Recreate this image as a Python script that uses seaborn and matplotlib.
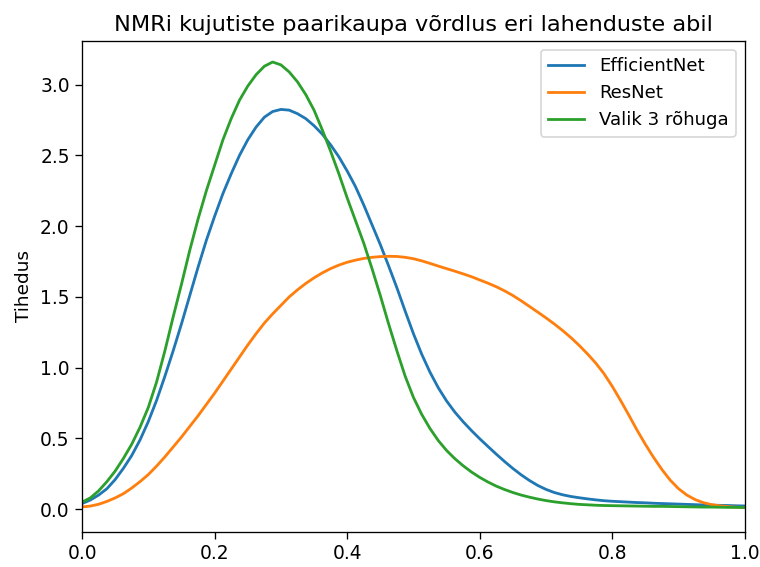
import matplotlib
matplotlib.use("Agg")
import matplotlib.pyplot as plt
import seaborn as sns
import pandas as pd

title = "NMRi kujutiste paarikaupa võrdlus eri lahenduste abil"
y_label = "Tihedus"
series_names = ["EfficientNet", "ResNet", "Valik 3 rõhuga"]
x_ticks = [0.0, 0.2, 0.4, 0.6, 0.8, 1.0]
y_ticks = [0.0, 0.5, 1.0, 1.5, 2.0, 2.5, 3.0]

x_grid = [0.0000, 0.0125, 0.0250, 0.0375, 0.0500, 0.0625, 0.0750, 0.0875, 0.1000, 0.1125,
          0.1250, 0.1375, 0.1500, 0.1625, 0.1750, 0.1875, 0.2000, 0.2125, 0.2250, 0.2375,
          0.2500, 0.2625, 0.2750, 0.2875, 0.3000, 0.3125, 0.3250, 0.3375, 0.3500, 0.3625,
          0.3750, 0.3875, 0.4000, 0.4125, 0.4250, 0.4375, 0.4500, 0.4625, 0.4750, 0.4875,
          0.5000, 0.5125, 0.5250, 0.5375, 0.5500, 0.5625, 0.5750, 0.5875, 0.6000, 0.6125,
          0.6250, 0.6375, 0.6500, 0.6625, 0.6750, 0.6875, 0.7000, 0.7125, 0.7250, 0.7375,
          0.7500, 0.7625, 0.7750, 0.7875, 0.8000, 0.8125, 0.8250, 0.8375, 0.8500, 0.8625,
          0.8750, 0.8875, 0.9000, 0.9125, 0.9250, 0.9375, 0.9500, 0.9625, 0.9750, 0.9875,
          1.0000]

efficientnet = [0.040, 0.065, 0.100, 0.145, 0.210, 0.290, 0.380, 0.490, 0.620, 0.770,
                0.940, 1.120, 1.310, 1.510, 1.710, 1.900, 2.070, 2.230, 2.370, 2.500,
                2.610, 2.700, 2.770, 2.810, 2.825, 2.820, 2.795, 2.760, 2.710, 2.650,
                2.575, 2.490, 2.390, 2.280, 2.150, 2.010, 1.870, 1.720, 1.565, 1.400,
                1.240, 1.095, 0.968, 0.858, 0.765, 0.686, 0.618, 0.556, 0.498, 0.443,
                0.389, 0.337, 0.288, 0.243, 0.203, 0.168, 0.140, 0.118, 0.102, 0.090,
                0.081, 0.073, 0.066, 0.060, 0.056, 0.053, 0.050, 0.047, 0.045, 0.042,
                0.040, 0.038, 0.036, 0.034, 0.032, 0.030, 0.029, 0.027, 0.026, 0.024,
                0.023]

resnet = [0.016, 0.022, 0.035, 0.055, 0.080, 0.110, 0.150, 0.195, 0.245, 0.305,
          0.370, 0.440, 0.510, 0.585, 0.660, 0.740, 0.820, 0.905, 0.990, 1.075,
          1.160, 1.240, 1.315, 1.380, 1.440, 1.500, 1.550, 1.595, 1.635, 1.670,
          1.700, 1.725, 1.745, 1.760, 1.772, 1.780, 1.785, 1.787, 1.786, 1.780,
          1.770, 1.755, 1.737, 1.718, 1.700, 1.682, 1.663, 1.643, 1.620, 1.597,
          1.572, 1.543, 1.510, 1.473, 1.433, 1.393, 1.352, 1.309, 1.263, 1.213,
          1.158, 1.098, 1.033, 0.958, 0.868, 0.769, 0.665, 0.558, 0.458, 0.365,
          0.280, 0.205, 0.145, 0.100, 0.068, 0.046, 0.032, 0.024, 0.018, 0.014,
          0.012]

valik3 = [0.050, 0.080, 0.130, 0.195, 0.270, 0.360, 0.460, 0.580, 0.720, 0.900,
          1.120, 1.360, 1.590, 1.830, 2.050, 2.250, 2.430, 2.610, 2.760, 2.890,
          2.990, 3.070, 3.130, 3.160, 3.140, 3.090, 3.020, 2.930, 2.820, 2.680,
          2.530, 2.370, 2.200, 2.040, 1.880, 1.700, 1.510, 1.310, 1.120, 0.940,
          0.790, 0.670, 0.570, 0.485, 0.415, 0.357, 0.307, 0.263, 0.225, 0.192,
          0.163, 0.139, 0.118, 0.100, 0.085, 0.072, 0.061, 0.052, 0.045, 0.039,
          0.034, 0.031, 0.028, 0.026, 0.025, 0.024, 0.023, 0.022, 0.021, 0.020,
          0.020, 0.019, 0.018, 0.017, 0.016, 0.015, 0.015, 0.014, 0.013, 0.013,
          0.012]

frames = []
for name, ys in zip(series_names, [efficientnet, resnet, valik3]):
    frames.append(pd.DataFrame({"x": x_grid, "y": ys, "model": name}))
df = pd.concat(frames, ignore_index=True)

fig, ax = plt.subplots(figsize=(6.4, 4.775), dpi=118.75)
sns.lineplot(data=df, x="x", y="y", hue="model", hue_order=series_names,
             palette=["#1f77b4", "#ff7f0e", "#2ca02c"], estimator=None,
             sort=True, linewidth=1.7, ax=ax)
ax.set_xlim(0, 1)
ax.set_ylim(-0.16, 3.31)
ax.set_xticks(x_ticks)
ax.set_yticks(y_ticks)
ax.tick_params(labelsize=11.3, length=4)
ax.set_title(title, fontsize=13.6)
ax.set_xlabel("")
ax.set_ylabel(y_label, fontsize=11.2)
ax.legend(loc="upper right", fontsize=11)
fig.subplots_adjust(left=0.108, right=0.980, top=0.928, bottom=0.062)
fig.savefig("out.png", dpi=118.75)
